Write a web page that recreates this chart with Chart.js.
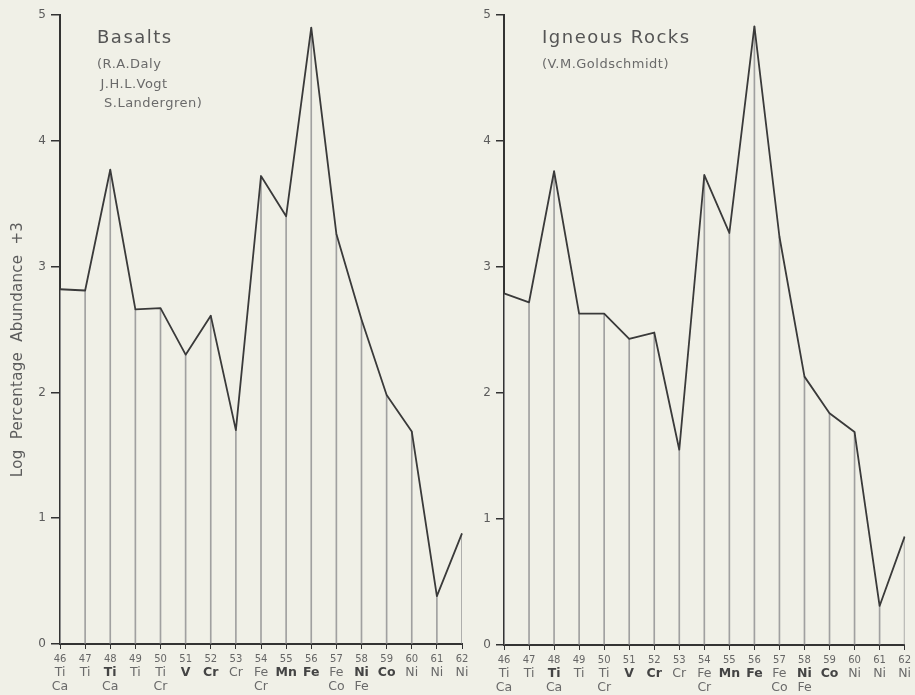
<!DOCTYPE html>
<html>
<head>
<meta charset="utf-8">
<script src="https://cdn.jsdelivr.net/npm/chart.js@4.4.1/dist/chart.umd.min.js"></script>
<style>
  html, body { margin: 0; padding: 0; background: #f0f0e7; }
  #wrap { position: relative; width: 915px; height: 695px; overflow: hidden; }
  canvas { position: absolute; top: 0; }
  #left { left: 0; }
  #right { left: 475px; }
</style>
</head>
<body>
<div id="wrap">
  <canvas id="left" width="475" height="695"></canvas>
  <canvas id="right" width="440" height="695"></canvas>
</div>
<script>
// mass numbers along the bottom
const massNumbers = ['46', '47', '48', '49', '50', '51', '52', '53', '54', '55', '56', '57', '58', '59', '60', '61', '62'];
// element symbols under each mass number (first and second row)
const elementsRow1 = ['Ti', 'Ti', 'Ti', 'Ti', 'Ti', 'V', 'Cr', 'Cr', 'Fe', 'Mn', 'Fe', 'Fe', 'Ni', 'Co', 'Ni', 'Ni', 'Ni'];
const elementsRow2 = ['Ca', '', 'Ca', '', 'Cr', '', '', '', 'Cr', '', '', 'Co', 'Fe', '', '', '', ''];
// most abundant isotope of the element (printed bold)
const mainIsotopes = ['48', '51', '52', '55', '56', '58', '59'];

// log percentage abundance + 3
const basaltValues = [2.82, 2.81, 3.77, 2.66, 2.67, 2.30, 2.61, 1.70, 3.72, 3.40, 4.90, 3.26, 2.58, 1.98, 1.69, 0.38, 0.88];
const igneousValues = [2.79, 2.72, 3.76, 2.63, 2.63, 2.43, 2.48, 1.55, 3.73, 3.27, 4.91, 3.24, 2.13, 1.84, 1.69, 0.31, 0.86];

const yTicks = [0, 1, 2, 3, 4, 5];

const FONT = '"DejaVu Sans", sans-serif';
const INK = '#333333';
const TEXT = '#5c5c5c';

// element symbols below the tick numbers
const elementLabels = {
  id: 'elementLabels',
  afterDraw(chart) {
    const ctx = chart.ctx;
    const xs = chart.scales.x;
    const base = chart.chartArea.bottom;
    ctx.save();
    ctx.textAlign = 'center';
    ctx.textBaseline = 'middle';
    massNumbers.forEach((m, i) => {
      const x = xs.getPixelForTick(i);
      const bold = mainIsotopes.includes(m);
      ctx.font = (bold ? 'bold ' : '') + '12.5px ' + FONT;
      ctx.fillStyle = bold ? '#444' : '#6a6a6a';
      ctx.fillText(elementsRow1[i], x, base + 29);
      ctx.font = '12.5px ' + FONT;
      ctx.fillStyle = '#6a6a6a';
      if (elementsRow2[i]) ctx.fillText(elementsRow2[i], x, base + 43);
    });
    ctx.restore();
  }
};

// panel heading written inside the plot, plus the rotated y label
const panelTitle = {
  id: 'panelTitle',
  afterDraw(chart, args, opts) {
    const ctx = chart.ctx;
    const a = chart.chartArea;
    ctx.save();
    ctx.textAlign = 'left';
    ctx.textBaseline = 'alphabetic';
    ctx.fillStyle = '#555';
    ctx.font = '18px ' + FONT;
    ctx.letterSpacing = '1.5px';
    ctx.fillText(opts.title, a.left + opts.dx, a.top + 28);
    ctx.font = '13px ' + FONT;
    ctx.letterSpacing = '0.5px';
    ctx.fillStyle = '#6a6a6a';
    opts.lines.forEach((l, k) => {
      ctx.fillText(l, a.left + opts.dx + k * 3.5, a.top + 53 + k * 19.5);
    });
    if (opts.yTitle) {
      ctx.translate(18, (a.top + a.bottom) / 2 + 20);
      ctx.rotate(-Math.PI / 2);
      ctx.textAlign = 'center';
      ctx.textBaseline = 'middle';
      ctx.font = '15px ' + FONT;
      ctx.letterSpacing = '0.3px';
      ctx.fillStyle = TEXT;
      ctx.fillText(opts.yTitle, 0, 0);
    }
    ctx.restore();
  }
};

function makeChart(id, values, cfg) {
  const ctx = document.getElementById(id).getContext('2d');
  return new Chart(ctx, {
    type: 'bar',
    data: {
      labels: massNumbers,
      datasets: [
        {
          type: 'line',
          data: values,
          borderColor: '#3a3a3a',
          borderWidth: 1.8,
          borderJoinStyle: 'round',
          pointRadius: 0,
          tension: 0,
          order: 1
        },
        {
          type: 'bar',
          data: values,
          backgroundColor: '#a0a0a0',
          barThickness: 1,
          order: 2
        }
      ]
    },
    options: {
      responsive: false,
      animation: false,
      layout: { padding: { top: 15, right: cfg.padRight, left: 0, bottom: 0 } },
      plugins: {
        legend: { display: false },
        tooltip: { enabled: false },
        panelTitle: { title: cfg.title, lines: cfg.lines, dx: cfg.dx, yTitle: cfg.yTitle }
      },
      scales: {
        x: {
          z: 1,
          offset: false,
          grid: { offset: false, drawOnChartArea: false, tickLength: 5, color: INK, lineWidth: 1 },
          border: { width: 2, color: INK },
          ticks: { font: { family: FONT, size: 10 }, color: '#666', padding: 4, maxRotation: 0, autoSkip: false },
          afterFit(s) { s.height = cfg.xHeight; }
        },
        y: {
          z: 1,
          min: 0,
          max: 5,
          afterBuildTicks(s) { s.ticks = yTicks.map(v => ({ value: v })); },
          grid: { drawOnChartArea: false, tickLength: cfg.tickLen, color: INK, lineWidth: 1.5 },
          border: { width: 2, color: INK },
          ticks: { font: { family: FONT, size: 12 }, color: TEXT, padding: 5 },
          afterFit(s) { s.width = cfg.yWidth; }
        }
      }
    },
    plugins: [elementLabels, panelTitle]
  });
}

makeChart('left', basaltValues, {
  title: 'Basalts',
  lines: ['(R.A.Daly', 'J.H.L.Vogt', 'S.Landergren)'],
  dx: 37,
  yTitle: 'Log  Percentage  Abundance  +3',
  yWidth: 60,
  tickLen: 9,
  padRight: 13,
  xHeight: 51
});

makeChart('right', igneousValues, {
  title: 'Igneous Rocks',
  lines: ['(V.M.Goldschmidt)'],
  dx: 38,
  yTitle: '',
  yWidth: 29,
  tickLen: 8,
  padRight: 5,
  xHeight: 50
});
</script>
</body>
</html>
